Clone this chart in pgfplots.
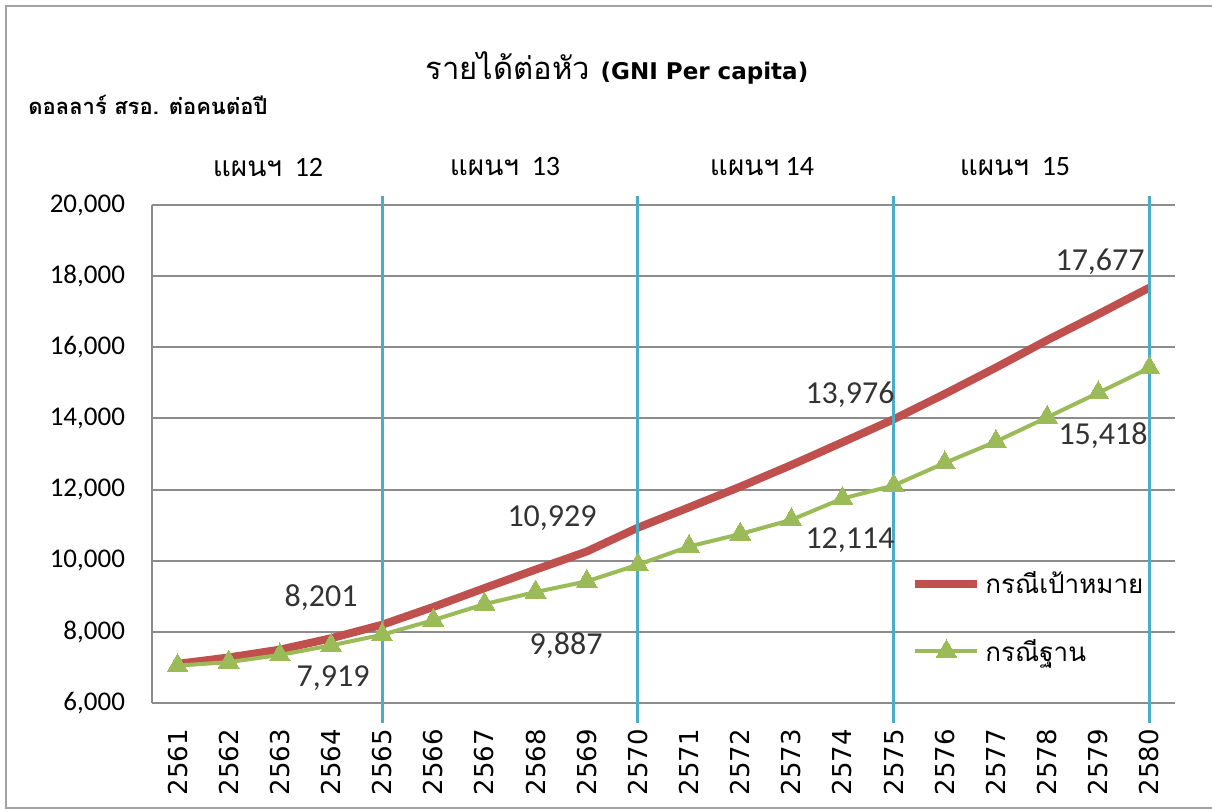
\documentclass[border=0pt]{standalone}
\usepackage{fontspec}
\usepackage{pgfplots}
\pgfplotsset{compat=1.18}
\setmainfont{Carlito}
\newfontfamily\thaifont[Script=Thai]{Loma}
\newfontfamily\dejavu{DejaVu Sans}
\definecolor{redl}{HTML}{C0504D}
\definecolor{greenl}{HTML}{9BBB59}
\definecolor{cyanl}{HTML}{4BACC6}
\definecolor{gridc}{HTML}{8C8C8C}
\begin{document}
\begin{tikzpicture}
\begin{axis}[
  scale only axis, width=511.5pt, height=249pt,
  xmin=2560.5, xmax=2580.5, ymin=6000, ymax=20000,
  xtick={2561,...,2580},
  ytick={6000,8000,...,20000},
  scaled y ticks=false,
  ymajorgrids, major grid style={gridc, line width=1pt},
  axis lines*=left,
  axis line style={gridc, line width=1.2pt},
  major tick length=0pt,
  /pgf/number format/assume math mode=true,
  x tick label style={font=\dejavu\fontsize{13}{13}\selectfont, rotate=90, anchor=east, xshift=-9.5pt, /pgf/number format/1000 sep={}},
  y tick label style={font=\fontsize{13.5}{14}\selectfont, xshift=-10pt, /pgf/number format/fixed, /pgf/number format/1000 sep={,}},
  clip=false,
  legend style={at={(0.742,0.272)}, anchor=north west, draw=none, fill=none,
    font=\thaifont\fontsize{13}{14}\selectfont, row sep=17pt, inner sep=0pt},
  legend cell align=left,
  legend image code/.code={\draw[mark repeat=2,mark phase=2,#1] plot coordinates {(0pt,0pt) (15.5pt,0pt) (31pt,0pt)};},
]
\addplot[redl, line width=4pt, line join=round] coordinates {
(2561,7100) (2562,7280) (2563,7500) (2564,7820) (2565,8201)
(2566,8700) (2567,9230) (2568,9750) (2569,10260) (2570,10929)
(2571,11500) (2572,12080) (2573,12690) (2574,13330) (2575,13976)
(2576,14690) (2577,15430) (2578,16200) (2579,16930) (2580,17677)};
\addlegendentry{กรณีเป้าหมาย}
\addplot[greenl, line width=2pt, mark=triangle*, mark size=6pt, mark options={fill=greenl, draw=greenl, line width=0pt}] coordinates {
(2561,7050) (2562,7150) (2563,7350) (2564,7620) (2565,7919)
(2566,8330) (2567,8780) (2568,9120) (2569,9420) (2570,9887)
(2571,10400) (2572,10750) (2573,11150) (2574,11750) (2575,12114)
(2576,12750) (2577,13350) (2578,14030) (2579,14720) (2580,15418)};
\addlegendentry{กรณีฐาน}
\foreach \xv in {2565,2570,2575,2580}{
  \edef\tmp{\noexpand\draw[cyanl, line width=1.5pt] ([yshift=4.5pt]axis cs:\xv,20000) -- ([yshift=-10pt]axis cs:\xv,6000);}
  \tmp
}
\end{axis}
\tikzset{lab/.style={anchor=east, inner sep=0pt, font=\fontsize{16}{16}\selectfont, text=black!80}}
\node[lab] at (103pt,52.5pt) {8,201};
\node[lab] at (109pt,12.5pt) {7,919};
\node[lab] at (222.5pt,92.5pt) {10,929};
\node[lab] at (225.5pt,28.5pt) {9,887};
\node[lab] at (371.5pt,154pt) {13,976};
\node[lab] at (371.5pt,81.5pt) {12,114};
\node[lab] at (496.5pt,220.5pt) {17,677};
\node[lab] at (498pt,133.5pt) {15,418};
\tikzset{sec/.style={inner sep=0pt, font=\fontsize{14}{14}\selectfont}}
\node[sec] at (58pt,268pt) {{\thaifont แผนฯ}\ \ 12};
\node[sec] at (176.5pt,268pt) {{\thaifont แผนฯ}\ \ 13};
\node[sec] at (305pt,268pt) {{\thaifont แผนฯ} 14};
\node[sec] at (431.5pt,268pt) {{\thaifont แผนฯ}\ \ 15};
\node[inner sep=0pt, font=\thaifont\fontsize{15.5}{15.5}\selectfont] at (232.5pt,317.5pt) {รายได้ต่อหัว {\dejavu\bfseries\fontsize{11.5}{11.5}\selectfont (GNI Per capita)}};
\node[anchor=west, inner sep=0pt, font=\thaifont\bfseries\fontsize{11}{11}\selectfont] at (-62pt,299pt) {ดอลลาร์ สรอ. ต่อคนต่อปี};
\draw[gridc!80, line width=1.2pt] (531pt,-52.5pt) -- (-73pt,-52.5pt) -- (-73pt,348.5pt) -- (531pt,348.5pt);
\pgfresetboundingbox
\path[use as bounding box] (-76pt,-54pt) rectangle (530pt,351.5pt);
\end{tikzpicture}
\end{document}
